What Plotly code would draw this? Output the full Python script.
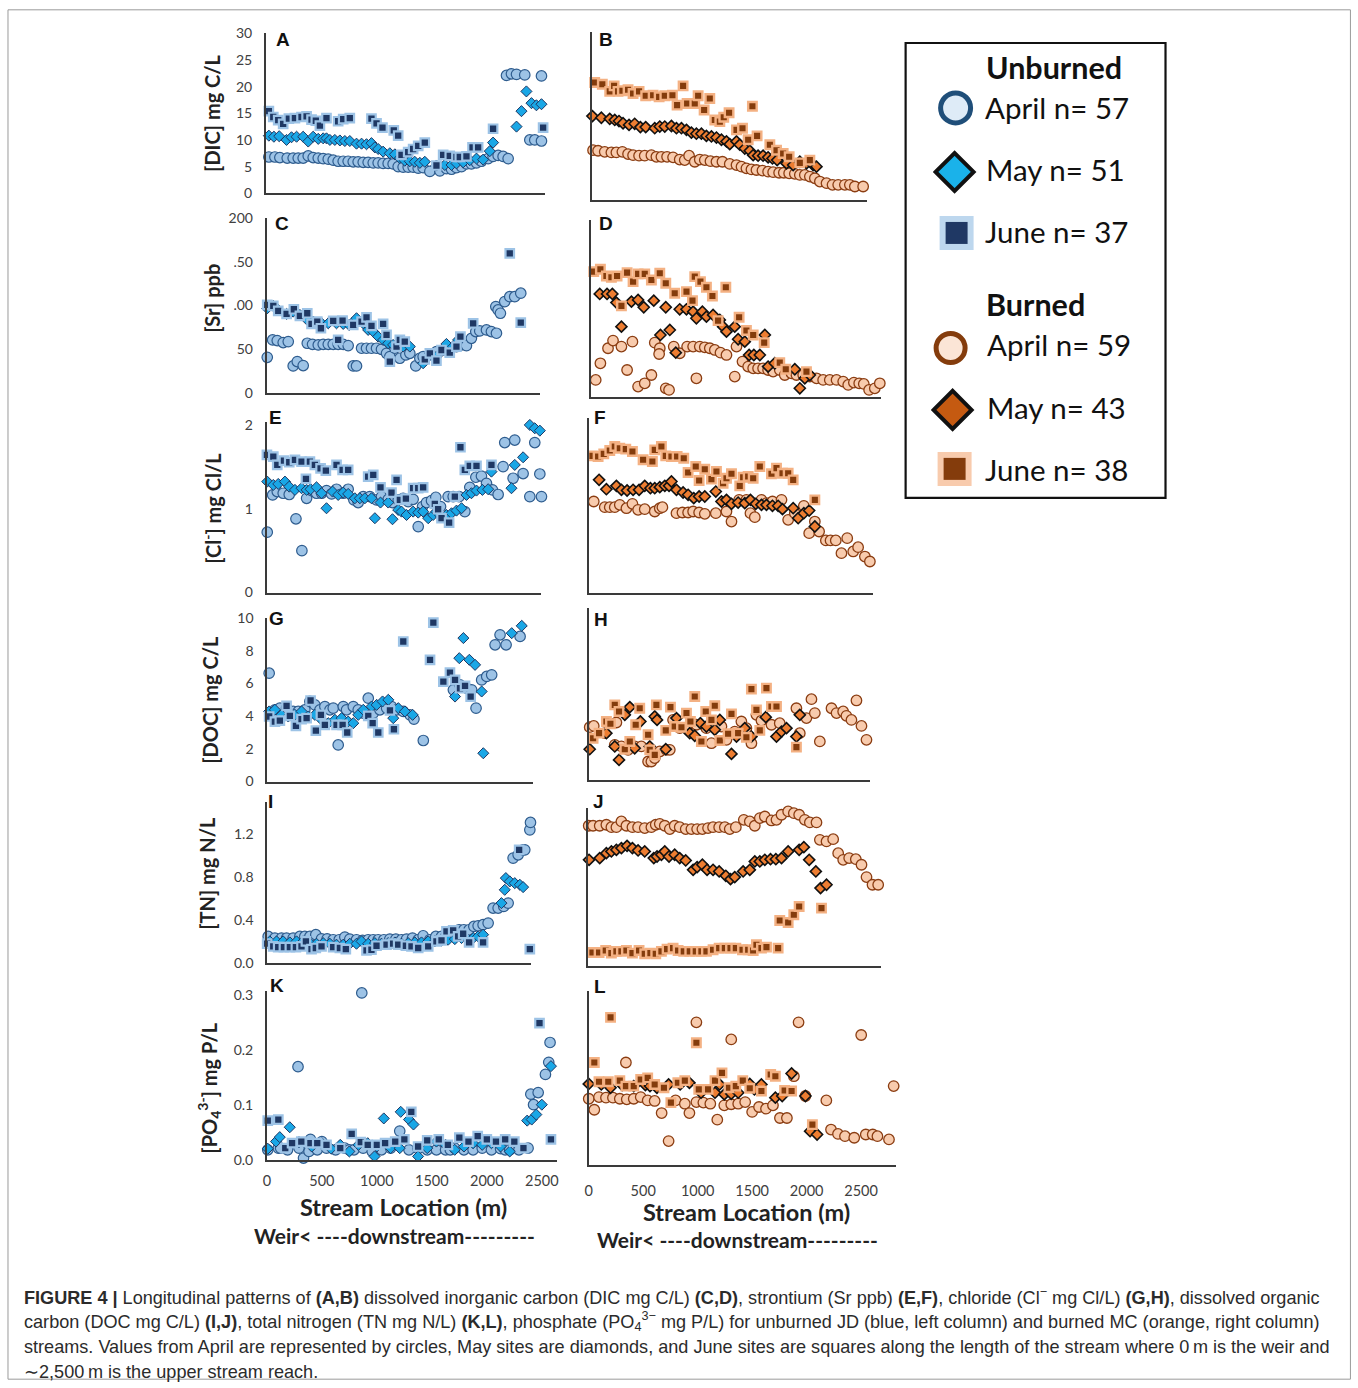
import plotly.graph_objects as go

# ---------------- DATA (x = stream location in m, y = concentration) ----------------
# Panel A: DIC, unburned
A_apr_x = [18,73,118,185,239,285,330,376,421,467,512,558,603,648,694,739,785,830,876,921,967,1012,1057,1103,1148,1194,1239,1285,1330,1376,1421,1482,1573,1633,1679,1724,1770,1815,1860,1906,1951,2012,2057,2103,2148,2194,2179,2224,2270,2345,2497,2391,2436,2497]
A_apr_y = [6.8,6.8,6.7,6.6,6.6,6.6,6.6,7.0,6.7,6.6,6.5,6.4,6.2,6.0,6.0,6.0,5.9,5.9,5.8,5.8,5.7,5.7,5.6,5.6,5.5,5.0,4.9,4.9,4.9,4.7,4.8,4.1,4.2,4.6,4.5,4.8,5.0,5.5,5.5,5.7,6.0,6.5,6.9,7.1,6.9,6.5,22.1,22.4,22.3,22.2,22.0,10.0,10.0,9.8]
A_may_x = [18,64,112,179,224,270,330,376,421,467,512,542,573,618,664,709,754,815,861,906,951,982,1012,1057,1118,1164,1209,1254,1300,1345,1391,1436,1542,1618,1679,1724,1785,1845,1906,1966,2027,2057,2270,2315,2360,2406,2451,2497]
A_may_y = [10.8,10.6,10.7,10.0,10.5,10.6,10.6,9.7,10.6,10.2,10.3,10.3,10.0,10.0,9.9,9.8,9.8,9.3,9.3,9.2,9.4,8.6,8.3,7.8,7.5,7.3,6.6,6.1,6.0,5.9,5.7,5.9,5.2,5.3,5.3,5.6,5.8,6.2,6.5,6.3,7.9,9.5,12.5,15.4,19.1,16.9,16.5,16.7]
A_jun_x = [18,58,103,148,200,255,315,361,406,445,482,542,648,694,754,951,997,1051,1154,1194,1224,1285,1330,1376,1436,1542,1603,1663,1724,1754,1815,1870,1921,2057,2512]
A_jun_y = [15.4,14.3,13.7,13.0,14.0,14.1,14.3,14.4,13.8,13.6,12.7,14.1,13.5,13.9,14.1,14.0,13.1,12.3,11.8,10.8,7.2,7.7,8.3,8.9,9.5,5.2,7.2,7.0,6.8,6.8,6.9,8.6,8.6,12.1,12.3]

# Panel B: DIC, burned
B_apr_x = [40,86,147,208,254,309,361,407,462,514,575,621,667,719,774,835,881,921,973,1019,1065,1117,1172,1227,1294,1356,1402,1447,1493,1539,1594,1646,1692,1747,1790,1839,1891,1937,1983,2029,2075,2121,2182,2237,2289,2350,2396,2442,2518]
B_apr_y = [8.5,8.4,8.2,8.1,8.1,8.2,7.8,7.6,7.5,7.5,7.6,7.3,7.3,7.3,7.2,6.8,6.7,7.5,6.4,6.8,6.7,6.5,6.4,6.4,6.0,5.8,5.5,5.2,5.0,4.9,4.8,4.6,4.5,4.4,4.4,4.3,4.2,4.0,4.0,3.7,3.4,2.8,2.5,2.2,2.2,2.2,2.2,1.9,1.9]
B_may_x = [34,116,193,239,278,315,370,422,474,523,606,652,698,759,805,851,897,942,988,1034,1080,1126,1172,1218,1264,1294,1356,1386,1432,1478,1509,1554,1600,1646,1686,1729,1815,1876,1937,1998,2059,2090]
B_may_y = [14.7,14.4,14.2,14.0,13.8,13.4,13.1,13.3,12.7,12.7,12.5,12.8,12.8,12.9,12.5,12.5,12.2,11.7,11.5,11.5,11.1,11.0,10.8,10.4,10.1,9.6,10.1,9.5,8.8,8.4,7.6,7.5,7.5,7.2,7.0,6.7,6.1,5.8,6.4,6.1,5.8,5.5]
B_jun_x = [55,125,193,233,269,309,361,407,462,523,591,646,698,768,811,866,903,973,1004,1059,1111,1157,1203,1239,1288,1356,1411,1463,1502,1545,1662,1723,1784,1839,1937,2029]
B_jun_y = [20.8,20.5,19.2,20.2,19.2,19.3,19.5,18.8,19.2,18.4,18.5,18.2,18.4,18.5,16.7,20.2,17.0,17.0,18.4,15.8,17.9,14.0,13.7,14.5,15.3,12.2,12.5,10.4,16.5,11.1,9.5,8.5,7.9,7.3,6.2,6.7]

# Panel C: Sr, unburned
C_apr_x = [3,52,94,148,194,239,276,330,367,415,467,512,558,603,648,694,739,785,815,861,906,951,997,1042,1088,1118,1164,1209,1264,1300,1354,1391,1421,1482,1542,1603,1663,1724,1770,1815,1860,1900,1936,1997,2042,2088,2082,2103,2124,2163,2209,2254,2309]
C_apr_y = [40.5,60.4,59.7,57.4,58.5,30.6,35.6,31.0,56.6,55.4,54.7,55.4,55.4,55.4,55.4,55.4,53.9,30.6,30.6,50.9,50.9,50.9,50.9,49.7,45.1,41.3,50.9,39.4,43.2,45.1,30.6,39.4,41.3,43.2,47.0,48.9,50.9,52.8,54.7,53.9,62.3,70.0,70.7,71.9,70.0,68.1,98.7,94.8,91.0,104.4,110.0,110.0,114.0]
C_may_x = [3,58,103,179,239,300,361,421,497,558,633,694,748,779,815,876,921,967,1012,1057,1103,1148,1194,1239,1300,1421,1542,1633,1694,1739]
C_may_y = [96.7,99.4,94.8,90.2,92.9,89.1,84.1,81.5,79.5,79.5,79.5,78.8,77.6,80.3,85.3,79.5,71.9,70.0,64.2,60.4,56.6,54.7,52.8,52.8,52.8,33.7,41.3,55.8,52.8,60.4]
C_jun_x = [3,58,103,179,245,300,367,406,458,491,603,648,688,785,861,906,951,1057,1088,1118,1179,1209,1254,1436,1482,1542,1588,1663,1724,1760,1876,2209,2309]
C_jun_y = [100.6,99.4,93.7,90.2,95.6,88.0,91.0,78.8,81.5,73.8,82.2,60.4,82.6,77.6,81.5,86.4,76.5,78.8,66.2,35.6,52.8,60.4,58.5,38.2,45.1,36.7,48.9,45.9,52.8,64.2,79.5,159.8,80.3]

# Panel D: Sr, burned
D_apr_x = [24,64,107,177,223,300,352,401,453,514,575,606,652,646,707,737,780,835,903,958,988,1019,1065,1111,1157,1209,1264,1340,1356,1411,1463,1509,1554,1600,1646,1692,1753,1799,1860,1906,1968,2029,2090,2151,2212,2274,2335,2381,2433,2482,2524,2573,2625,2671]
D_apr_y = [54.1,18.7,37.3,54.1,62.7,56.0,29.8,61.5,11.2,14.9,24.2,60.4,54.1,47.7,9.3,7.5,56.0,48.5,56.0,56.0,20.5,56.0,55.2,54.1,52.2,49.2,46.6,22.4,56.0,39.2,33.6,31.7,31.7,31.7,29.8,28.0,29.8,24.2,26.1,24.2,24.2,22.4,20.5,18.7,18.7,18.7,16.8,13.1,15.7,14.9,14.2,7.5,9.3,14.9]
D_may_x = [101,168,217,254,300,392,453,505,597,658,707,744,799,835,897,958,988,1043,1080,1141,1203,1233,1264,1340,1371,1432,1472,1515,1570,1616,1646,1707,1891,1937,1983,2029]
D_may_y = [114.9,114.9,114.9,105.2,78.3,106.3,108.2,100.0,107.4,69.0,100.0,74.6,49.2,97.7,97.7,95.1,87.7,95.1,89.5,91.4,85.8,78.3,72.7,78.3,64.2,61.5,46.6,46.6,46.6,69.0,33.6,37.3,30.6,9.3,20.5,24.2]
D_jun_x = [46,107,162,208,260,300,352,407,453,514,575,652,707,789,897,952,973,1025,1080,1135,1187,1258,1380,1447,1509,1610,1753,1808,1998]
D_jun_y = [139.9,142.5,135.0,133.5,135.0,101.5,138.8,128.7,137.3,137.3,130.5,138.0,126.8,115.6,117.5,107.4,134.3,128.7,122.3,112.6,85.0,122.3,88.8,73.9,69.0,60.4,38.0,30.6,28.0]

# Panel E: Cl, unburned
E_apr_x = [3,52,94,148,203,264,318,361,406,451,497,542,588,633,694,739,791,830,876,936,997,1042,1103,1142,1194,1239,1285,1330,1376,1415,1451,1497,1536,1579,1648,1694,1748,1800,1845,1900,1951,1997,2051,2103,2148,2163,2254,2239,2330,2391,2436,2482,2497]
E_apr_y = [0.72,1.165,1.205,1.185,1.17,0.88,0.50,1.125,1.217,1.185,1.185,1.217,1.177,1.233,1.185,1.233,1.105,1.074,1.145,1.145,1.105,1.145,1.113,1.074,1.105,1.125,1.085,1.113,0.787,1.026,1.074,1.097,1.137,1.026,1.145,1.145,1.145,0.966,1.256,1.376,1.39,1.304,1.225,1.17,1.503,1.79,1.82,1.364,1.42,1.145,1.79,1.415,1.145]
E_may_x = [3,58,103,164,203,255,315,361,397,451,497,542,597,648,694,739,800,845,891,951,982,1033,1103,1142,1194,1224,1270,1330,1376,1421,1467,1512,1542,1588,1633,1679,1724,1770,1815,1860,1906,1960,2012,2042,2224,2254,2330,2391,2436,2482]
E_may_y = [1.324,1.284,1.296,1.324,1.264,1.225,1.245,1.225,1.233,1.256,1.185,1.006,1.205,1.165,1.193,1.177,1.125,1.125,1.125,1.125,0.887,1.074,1.074,0.875,0.986,0.966,0.926,0.966,0.954,0.966,0.887,0.926,0.966,0.899,0.926,0.946,0.978,1.006,1.165,1.185,1.217,1.225,1.233,1.443,1.245,1.523,1.614,2.0,1.96,1.932]
E_jun_x = [0,58,94,155,203,255,315,355,391,436,488,536,633,688,739,921,967,1033,1133,1179,1209,1264,1330,1376,1421,1527,1557,1588,1657,1709,1760,1800,1845,1906,2042]
E_jun_y = [1.642,1.622,1.523,1.575,1.555,1.583,1.563,1.356,1.563,1.523,1.483,1.455,1.523,1.463,1.463,1.384,1.404,1.256,1.193,1.344,1.105,1.121,1.245,1.245,1.256,1.058,0.994,0.887,0.835,1.145,1.734,1.463,1.511,1.511,1.523]

# Panel F: Cl, burned
F_apr_x = [0,46,147,193,239,285,346,401,453,514,606,652,676,805,860,912,958,1013,1065,1166,1264,1310,1380,1447,1484,1524,1585,1631,1686,1769,1830,1891,1974,2023,2075,2114,2176,2219,2267,2319,2372,2427,2472,2534,2580]
F_apr_y = [1.023,1.062,0.996,0.996,0.996,1.023,0.984,1.035,0.965,0.973,0.946,0.984,0.996,0.926,0.934,0.934,0.946,0.934,0.919,0.926,0.946,0.829,1.081,1.081,0.926,0.88,1.081,1.043,1.062,1.081,0.849,0.926,1.012,0.694,0.829,0.713,0.609,0.609,0.609,0.461,0.636,0.481,0.531,0.422,0.364]
F_may_x = [0,95,162,254,300,352,407,462,514,566,606,652,698,737,759,805,866,912,964,1013,1065,1166,1218,1264,1310,1371,1432,1484,1533,1585,1631,1686,1738,1778,1876,1922,1974,2023,2075]
F_may_y = [1.244,1.314,1.205,1.244,1.198,1.19,1.198,1.198,1.244,1.217,1.217,1.229,1.244,1.244,1.295,1.198,1.167,1.14,1.101,1.12,1.12,1.178,1.062,1.081,1.035,1.05,1.043,1.081,1.035,1.023,1.023,1.012,1.012,0.973,0.984,0.868,0.926,0.957,0.771]
F_jun_x = [34,86,138,193,239,285,340,401,499,584,606,667,707,759,811,872,912,982,1013,1065,1126,1172,1233,1264,1310,1386,1417,1463,1509,1570,1677,1723,1778,1830,1876,2075]
F_jun_y = [1.593,1.585,1.616,1.655,1.702,1.682,1.671,1.643,1.547,1.527,1.663,1.702,1.593,1.585,1.585,1.566,1.399,1.469,1.306,1.438,1.322,1.411,1.275,1.333,1.384,1.244,1.345,1.353,1.333,1.469,1.384,1.45,1.391,1.391,1.314,1.081]

# Panel G: DOC, unburned
G_apr_x = [21,73,118,179,239,285,345,391,436,482,527,573,603,648,694,724,785,830,876,921,967,1027,1088,1133,1179,1239,1300,1336,1421,1694,1754,1815,1860,1900,1951,1997,2042,2073,2118,2173,2300,2421]
G_apr_y = [6.63,4.39,4.49,4.49,4.29,4.29,4.39,4.9,4.69,4.39,4.59,4.39,4.49,2.24,4.59,4.39,4.59,4.39,4.18,5.1,4.18,4.39,4.49,4.59,4.39,4.29,4.08,3.82,2.51,5.61,5.92,5.71,5.61,4.49,6.22,6.43,6.53,8.37,8.98,8.37,8.88,3.57]
G_may_x = [21,73,133,194,255,315,376,436,497,558,618,679,739,785,830,876,951,997,1051,1103,1148,1194,1254,1324,1709,1785,1748,1839,1891,1951,2224,2315,1966]
G_may_y = [4.29,4.39,4.08,3.98,4.08,4.29,3.98,4.08,3.78,3.57,3.78,3.88,3.67,3.57,4.08,4.39,4.59,4.69,4.9,5.0,3.88,4.49,4.29,4.08,5.2,8.78,7.55,7.45,7.14,5.51,9.08,9.53,1.73]
G_jun_x = [21,73,118,179,209,264,315,361,397,445,491,527,633,688,730,921,961,1012,1118,1154,1239,1482,1512,1603,1663,1709,1754,1800,1851]
G_jun_y = [3.98,3.67,3.73,4.63,4.02,3.41,3.82,3.88,4.96,3.12,4.08,3.47,3.47,3.47,3.0,4.02,3.57,3.0,4.35,3.2,8.57,7.45,9.73,6.12,6.67,6.22,5.71,5.86,5.2]

# Panel H: DOC, burned
H_apr_x = [9,46,147,254,239,300,361,422,483,545,575,606,652,713,744,774,835,897,988,1080,1126,1218,1264,1340,1401,1447,1493,1539,1585,1677,1753,1906,1937,1998,2044,2075,2121,2228,2274,2335,2365,2411,2457,2503,2549]
H_apr_y = [3.25,3.33,2.88,3.54,2.16,2.06,1.85,2.06,2.06,1.13,1.13,1.34,1.75,1.85,1.85,3.7,3.19,3.19,3.4,3.19,2.26,3.29,2.47,2.98,3.6,3.19,2.26,4.01,3.66,3.4,3.5,4.42,2.88,3.81,4.98,4.12,2.37,4.42,4.12,4.22,3.95,3.7,4.9,3.33,2.47]
H_may_x = [9,162,239,278,331,377,422,474,560,606,627,707,805,927,973,1025,1080,1157,1203,1310,1356,1432,1493,1625,1723,1769,1815,1906,1937]
H_may_y = [1.89,2.88,2.06,1.23,4.01,4.49,1.95,3.6,2.06,3.91,3.7,1.89,3.81,2.88,2.72,3.5,3.29,3.09,3.7,1.6,2.67,3.19,2.67,3.87,2.67,2.98,3.19,2.67,4.01]
H_jun_x = [40,95,162,199,239,278,331,377,431,468,545,560,606,621,707,750,789,851,897,933,973,1034,1074,1126,1157,1203,1279,1310,1371,1447,1493,1539,1570,1631,1677,1723,1906]
H_jun_y = [2.57,2.88,3.6,3.46,4.63,4.22,1.89,2.37,3.4,4.42,2.78,1.85,1.54,4.63,3.05,4.49,3.29,3.25,4.12,3.6,5.14,2.37,4.22,3.7,4.57,2.43,2.84,4.07,2.88,2.63,5.6,4.32,3.05,5.66,4.53,4.53,2.02]

# Panel I: TN, unburned
I_apr_x = [12,73,133,179,239,300,345,391,445,497,548,603,658,709,754,815,870,921,967,1012,1064,1118,1173,1224,1270,1324,1376,1421,1482,1536,1588,1633,1694,1748,1791,1839,1882,1921,1966,2012,2057,2103,2154,2194,2239,2285,2330,2345,2391,2397]
I_apr_y = [0.248,0.233,0.233,0.233,0.233,0.248,0.248,0.248,0.264,0.226,0.226,0.217,0.217,0.242,0.223,0.217,0.211,0.217,0.217,0.217,0.217,0.223,0.223,0.217,0.223,0.233,0.217,0.254,0.217,0.248,0.248,0.264,0.295,0.31,0.31,0.31,0.341,0.347,0.357,0.372,0.512,0.512,0.527,0.558,0.977,1.008,1.054,1.054,1.24,1.309]
I_may_x = [27,88,148,209,270,330,391,451,512,573,633,694,754,815,861,921,982,1042,1103,1164,1224,1285,1345,1406,1467,1527,1588,1648,1709,1770,1815,1876,1921,1966,2133,2163,2173,2209,2254,2300,2330]
I_may_y = [0.202,0.202,0.202,0.192,0.202,0.202,0.186,0.18,0.186,0.18,0.171,0.171,0.18,0.18,0.202,0.18,0.186,0.18,0.186,0.192,0.18,0.186,0.192,0.192,0.202,0.202,0.211,0.217,0.223,0.233,0.233,0.233,0.248,0.264,0.558,0.682,0.791,0.76,0.744,0.729,0.707]
I_jun_x = [3,58,103,155,209,264,315,355,406,445,497,603,664,718,906,951,997,1088,1148,1194,1264,1315,1376,1467,1542,1588,1633,1694,1739,1785,1839,1966,2294,2391]
I_jun_y = [0.18,0.155,0.149,0.149,0.149,0.149,0.155,0.202,0.13,0.14,0.155,0.149,0.14,0.13,0.118,0.124,0.161,0.171,0.18,0.171,0.161,0.155,0.14,0.155,0.202,0.211,0.295,0.304,0.248,0.273,0.192,0.192,1.054,0.13]

# Panel J: TN, burned
J_apr_x = [0,40,101,162,208,254,300,346,401,453,514,575,615,652,698,744,789,835,890,942,995,1043,1095,1141,1197,1249,1294,1350,1423,1478,1524,1570,1616,1677,1723,1769,1830,1882,1931,1983,2029,2090,2121,2182,2243,2289,2335,2390,2451,2503,2549,2604,2656]
J_apr_y = [1.309,1.309,1.309,1.318,1.296,1.296,1.349,1.309,1.296,1.296,1.287,1.296,1.318,1.327,1.309,1.278,1.309,1.296,1.278,1.278,1.278,1.278,1.287,1.296,1.296,1.296,1.278,1.296,1.364,1.349,1.309,1.38,1.395,1.358,1.364,1.411,1.442,1.426,1.411,1.364,1.34,1.34,1.178,1.163,1.184,1.054,0.992,1.008,0.998,0.946,0.831,0.76,0.76]
J_may_x = [3,101,162,208,254,300,352,401,453,514,597,627,667,698,737,789,835,890,958,995,1043,1086,1141,1197,1258,1301,1340,1417,1478,1524,1570,1616,1668,1717,1769,1830,1931,1974,2023,2084,2127,2182]
J_may_y = [0.992,1.008,1.054,1.07,1.085,1.101,1.122,1.101,1.079,1.07,1.008,1.023,1.039,1.07,1.023,1.039,1.008,0.986,0.899,0.924,0.946,0.899,0.899,0.884,0.843,0.812,0.831,0.884,0.899,0.977,0.977,0.992,0.998,0.998,1.008,1.07,1.085,1.11,0.992,0.884,0.729,0.76]
J_jun_x = [34,95,156,208,254,300,346,401,462,514,566,615,667,719,774,820,872,927,982,1034,1080,1141,1197,1249,1301,1350,1411,1463,1509,1539,1585,1631,1738,1753,1830,1882,1931,2136]
J_jun_y = [0.13,0.13,0.149,0.124,0.14,0.14,0.149,0.124,0.149,0.118,0.124,0.118,0.14,0.161,0.171,0.149,0.14,0.14,0.14,0.14,0.14,0.155,0.171,0.171,0.171,0.171,0.155,0.155,0.149,0.202,0.171,0.18,0.171,0.428,0.409,0.481,0.558,0.543]

# Panel K: PO4, unburned
K_apr_x = [8,104,125,188,283,292,333,383,396,458,500,542,625,708,750,792,863,875,958,1042,1125,1208,1292,1375,1458,1542,1625,1667,1708,1792,1875,1958,2042,2125,2167,2208,2292,2375,2400,2425,2467,2533,2563,2575]
K_apr_y = [0.018,0.021,0.021,0.018,0.169,0.021,0.003,0.015,0.037,0.018,0.033,0.021,0.018,0.021,0.018,0.018,0.303,0.021,0.015,0.018,0.021,0.052,0.018,0.02,0.018,0.018,0.018,0.018,0.021,0.018,0.018,0.021,0.018,0.02,0.018,0.018,0.018,0.021,0.119,0.1,0.122,0.155,0.177,0.213]
K_may_x = [8,83,117,208,292,408,500,583,667,750,833,917,979,1000,1063,1125,1208,1217,1292,1333,1375,1458,1542,1625,1708,1792,1875,1958,2042,2125,2208,2367,2408,2450,2500,2583]
K_may_y = [0.02,0.033,0.041,0.059,0.032,0.024,0.03,0.02,0.027,0.015,0.027,0.03,0.006,0.024,0.075,0.021,0.021,0.087,0.073,0.064,0.006,0.021,0.033,0.027,0.018,0.024,0.03,0.027,0.03,0.024,0.015,0.071,0.073,0.082,0.1,0.17]
K_jun_x = [8,104,167,229,313,396,458,542,667,771,854,917,1000,1075,1167,1250,1313,1375,1458,1563,1646,1750,1833,1917,2000,2083,2167,2250,2333,2479,2583]
K_jun_y = [0.071,0.073,0.021,0.03,0.033,0.03,0.03,0.027,0.021,0.047,0.032,0.027,0.027,0.03,0.033,0.037,0.087,0.024,0.035,0.037,0.027,0.04,0.033,0.043,0.037,0.033,0.037,0.033,0.021,0.248,0.037]

# Panel L: PO4, burned
L_apr_x = [0,51,94,158,222,285,341,349,413,477,541,605,669,733,797,882,924,988,988,1052,1116,1180,1244,1308,1308,1372,1436,1500,1563,1627,1691,1755,1819,1883,1926,1989,2181,2224,2288,2352,2437,2501,2543,2607,2650,2756,2799]
L_apr_y = [0.12,0.1,0.123,0.122,0.122,0.12,0.186,0.119,0.12,0.123,0.117,0.116,0.094,0.043,0.117,0.111,0.094,0.114,0.259,0.113,0.111,0.082,0.108,0.11,0.228,0.111,0.114,0.096,0.105,0.102,0.108,0.085,0.085,0.161,0.259,0.125,0.117,0.064,0.056,0.052,0.049,0.236,0.055,0.055,0.052,0.046,0.143]
L_may_x = [0,115,200,307,413,520,562,626,733,839,924,1031,1159,1201,1244,1308,1372,1478,1521,1585,1713,1776,1862,1989,2032,2096]
L_may_y = [0.147,0.146,0.14,0.145,0.143,0.145,0.143,0.14,0.146,0.146,0.149,0.131,0.131,0.146,0.128,0.129,0.131,0.147,0.137,0.146,0.122,0.125,0.166,0.125,0.061,0.055]
L_jun_x = [51,94,179,200,285,341,413,477,541,605,690,754,818,882,988,1010,1095,1159,1223,1287,1350,1414,1478,1585,1670,1713,1798,1862,2053]
L_jun_y = [0.186,0.151,0.151,0.268,0.153,0.143,0.143,0.155,0.158,0.146,0.14,0.113,0.149,0.153,0.222,0.137,0.137,0.153,0.167,0.14,0.143,0.153,0.139,0.134,0.164,0.161,0.135,0.134,0.073]

X_TICKS = [0, 500, 1000, 1500, 2000, 2500]
Y_TICKS = {
    'A': ([0, 5, 10, 15, 20, 25, 30], ['0', '5', '10', '15', '20', '25', '30']),
    'C': ([0, 50, 100, 150, 200], ['0', '50', '.00', '.50', '200']),
    'E': ([0, 1, 2], ['0', '1', '2']),
    'G': ([0, 2, 4, 6, 8, 10], ['0', '2', '4', '6', '8', '10']),
    'I': ([0, 0.4, 0.8, 1.2], ['0.0', '0.4', '0.8', '1.2']),
    'K': ([0, 0.1, 0.2, 0.3], ['0.0', '0.1', '0.2', '0.3']),
}
Y_TITLES = ['[DIC] mg C/L', '[Sr] ppb', '[Cl<sup>-</sup>] mg Cl/L', '[DOC] mg C/L',
            '[TN] mg N/L', '[PO<sub>4</sub><sup>3-</sup>] mg P/L']

SERIES = {
    'A': [(A_apr_x, A_apr_y), (A_may_x, A_may_y), (A_jun_x, A_jun_y)],
    'B': [(B_apr_x, B_apr_y), (B_may_x, B_may_y), (B_jun_x, B_jun_y)],
    'C': [(C_apr_x, C_apr_y), (C_may_x, C_may_y), (C_jun_x, C_jun_y)],
    'D': [(D_apr_x, D_apr_y), (D_may_x, D_may_y), (D_jun_x, D_jun_y)],
    'E': [(E_apr_x, E_apr_y), (E_may_x, E_may_y), (E_jun_x, E_jun_y)],
    'F': [(F_apr_x, F_apr_y), (F_may_x, F_may_y), (F_jun_x, F_jun_y)],
    'G': [(G_apr_x, G_apr_y), (G_may_x, G_may_y), (G_jun_x, G_jun_y)],
    'H': [(H_apr_x, H_apr_y), (H_may_x, H_may_y), (H_jun_x, H_jun_y)],
    'I': [(I_apr_x, I_apr_y), (I_may_x, I_may_y), (I_jun_x, I_jun_y)],
    'J': [(J_apr_x, J_apr_y), (J_may_x, J_may_y), (J_jun_x, J_jun_y)],
    'K': [(K_apr_x, K_apr_y), (K_may_x, K_may_y), (K_jun_x, K_jun_y)],
    'L': [(L_apr_x, L_apr_y), (L_may_x, L_may_y), (L_jun_x, L_jun_y)],
}

# ---------------- LAYOUT / STYLE ----------------
W, H = 1358, 1388
# small calibration from target pixel positions to page positions
SX, CX = 0.996, 4.0
SY, CY = 0.988, 9.0
def fx(p): return ((p - CX) / SX) / W
def fy(p): return 1 - ((p - CY) / SY) / H

# panel boxes in target pixels: left, right, top, bottom ; axis ranges
BOX = {
    'A': (266, 545, 33.3, 193.3, [-9, 2527], [0, 30]),
    'B': (592, 867, 31.7, 200, [28, 2550], [-0.55, 30.05]),
    'C': (266.7, 540, 218.3, 392.7, [-3, 2482], [0, 200]),
    'D': (591.7, 881.7, 220, 396.7, [25, 2685], [0, 197.7]),
    'E': (266.7, 541.7, 421.7, 592.7, [-3, 2497], [0, 2.04]),
    'F': (589.3, 873.3, 418.3, 593.3, [3, 2608], [-0.004, 2.031]),
    'G': (267.3, 533.3, 618.3, 781.7, [3, 2418], [0, 10]),
    'H': (589.3, 870, 608.3, 780, [3, 2578], [0, 10.6]),
    'I': (267.3, 531.7, 801.7, 963.3, [3, 2406], [0, 1.504]),
    'J': (588.3, 881.7, 808.3, 966.7, [-6, 2685], [0, 1.473]),
    'K': (267, 557, 991, 1160, [0, 2636], [0, 0.307]),
    'L': (589, 896, 991, 1165, [0, 2817], [0, 0.3165]),
}
LETTER_POS = {'A': (283, 40), 'B': (606, 40), 'C': (282, 224), 'D': (606, 224),
              'E': (276, 418), 'F': (600, 418), 'G': (277, 619), 'H': (601, 620),
              'I': (271, 802), 'J': (599, 802), 'K': (277, 986), 'L': (600, 987)}
YTITLE_POS = [(212, 113), (212, 298), (212, 508), (210, 700), (207, 873), (209, 1088)]

AX = '#3a3a3a'
TICKC = '#404040'
UNB = [
    dict(symbol='circle', size=10.5, color='#9dc3e6', line=dict(color='#2e5c8e', width=1.2)),
    dict(symbol='diamond', size=8.5, color='#1aa7e6', line=dict(color='#1f3864', width=1.0)),
    dict(symbol='square', size=8.5, color='#1f3864', line=dict(color='#9dc3e6', width=2.2)),
]
BUR = [
    dict(symbol='circle', size=10.5, color='#f8cbad', line=dict(color='#8b3d12', width=1.3)),
    dict(symbol='diamond', size=8.5, color='#ed7d31', line=dict(color='#111111', width=1.6)),
    dict(symbol='square', size=8.5, color='#843c0c', line=dict(color='#f4b183', width=2.4)),
]

fig = go.Figure()
layout = dict(width=W, height=H, margin=dict(l=0, r=0, t=0, b=0),
              paper_bgcolor='white', plot_bgcolor='rgba(0,0,0,0)', showlegend=False)
annotations = []
shapes = []

def note(x, y, text, size, family='Lato', color='#222222', xanchor='center', angle=0):
    annotations.append(dict(x=fx(x), y=fy(y), xref='paper', yref='paper', text=text,
                            showarrow=False, xanchor=xanchor, yanchor='middle', textangle=angle,
                            font=dict(family=family, size=size, color=color)))

keys = list(BOX.keys())
for i, k in enumerate(keys, start=1):
    l, r, t, b, xr, yr = BOX[k]
    sx = '' if i == 1 else str(i)
    left_col = (i % 2 == 1)
    styles = UNB if left_col else BUR
    for (xs, ys), st in zip(SERIES[k], styles):
        fig.add_trace(go.Scatter(x=xs, y=ys, mode='markers', xaxis='x' + sx, yaxis='y' + sx,
                                 marker=st, cliponaxis=False, showlegend=False, hoverinfo='x+y'))
    xa = dict(domain=[fx(l), fx(r)], range=xr, anchor='y' + sx, showline=True, linecolor=AX,
              linewidth=1.7, showgrid=False, zeroline=False, ticks='', showticklabels=False,
              fixedrange=True)
    ya = dict(domain=[fy(b), fy(t)], range=yr, anchor='x' + sx, showline=True, linecolor=AX,
              linewidth=1.7, showgrid=False, zeroline=False, ticks='', showticklabels=False,
              fixedrange=True)
    if k in Y_TICKS:
        tv, tt = Y_TICKS[k]
        ya.update(showticklabels=True, tickvals=tv, ticktext=tt, ticklabelstandoff=9,
                  tickfont=dict(family='Lato', size=14, color=TICKC))
    if k in ('K', 'L'):
        xa.update(showticklabels=True, tickvals=X_TICKS, ticktext=[str(v) for v in X_TICKS],
                  ticklabelstandoff=(7 if k == 'K' else 12),
                  tickfont=dict(family='Lato', size=14.5, color=TICKC))
    layout['xaxis' + sx] = xa
    layout['yaxis' + sx] = ya
    lx, ly = LETTER_POS[k]
    note(lx, ly, '<b>%s</b>' % k, 19, family='Liberation Sans', color='#111111')

for (px_, py_), txt in zip(YTITLE_POS, Y_TITLES):
    note(px_, py_, '<b>%s</b>' % txt, 20, angle=-90)

for cx, cy1, cy2 in [(404, 1207, 1236), (747, 1212, 1240)]:
    note(cx, cy1, '<b>Stream Location (m)</b>', 23.5)
    note(cx - 9, cy2, '<b>Weir< ----downstream---------</b>', 21)

# ---- legend box (drawn) ----
shapes.append(dict(type='rect', xref='paper', yref='paper', x0=fx(906), x1=fx(1166), y0=fy(498), y1=fy(43),
                   line=dict(color='#111111', width=2.2), fillcolor='white', layer='below'))

def circle(cx, cy, r, fill, col, w):
    shapes.append(dict(type='circle', xref='paper', yref='paper', x0=fx(cx - r), x1=fx(cx + r),
                       y0=fy(cy + r), y1=fy(cy - r), fillcolor=fill, line=dict(color=col, width=w)))

def diamond(cx, cy, r, fill, col, w):
    p = 'M %f,%f L %f,%f L %f,%f L %f,%f Z' % (fx(cx - r), fy(cy), fx(cx), fy(cy - r),
                                              fx(cx + r), fy(cy), fx(cx), fy(cy + r))
    shapes.append(dict(type='path', xref='paper', yref='paper', path=p, fillcolor=fill,
                       line=dict(color=col, width=w)))

def square(cx, cy, ro, ri, outer, inner):
    shapes.append(dict(type='rect', xref='paper', yref='paper', x0=fx(cx - ro), x1=fx(cx + ro),
                       y0=fy(cy + ro), y1=fy(cy - ro), fillcolor=outer, line=dict(width=0)))
    shapes.append(dict(type='rect', xref='paper', yref='paper', x0=fx(cx - ri), x1=fx(cx + ri),
                       y0=fy(cy + ri), y1=fy(cy - ri), fillcolor=inner, line=dict(width=0)))

circle(956, 108, 15, '#deebf7', '#1f4e79', 5)
diamond(955, 172, 19, '#1ab2ea', '#111111', 4)
square(957, 233, 17, 11, '#bdd7ee', '#1f3864')
circle(951, 348, 14.5, '#fbe5d6', '#843c0c', 5)
diamond(953, 410, 19, '#c55a11', '#111111', 4)
square(955, 469, 17, 11, '#f8cbad', '#843c0c')

LEG_TXT = [('<b>Unburned</b>', 1054, 67, 'center', 30.5), ('April n= 57', 983, 108, 'left', 29.5),
           ('May n= 51', 984, 170, 'left', 29.5), ('June n= 37', 983, 232, 'left', 29.5),
           ('<b>Burned</b>', 1036, 304, 'center', 30.5), ('April n= 59', 985, 345, 'left', 29.5),
           ('May n= 43', 985, 408, 'left', 29.5), ('June n= 38', 983, 470, 'left', 29.5)]
for txt, x_, y_, anc, sz in LEG_TXT:
    note(x_, y_, txt, sz, color='#111111', xanchor=anc)

# ---- caption ----
CAPTION = [
    '<b>FIGURE 4 |</b> Longitudinal patterns of <b>(A,B)</b> dissolved inorganic carbon (DIC mg C/L) <b>(C,D)</b>, strontium (Sr ppb) <b>(E,F)</b>, chloride (Cl<sup>\u2212</sup> mg Cl/L) <b>(G,H)</b>, dissolved organic',
    'carbon (DOC mg C/L) <b>(I,J)</b>, total nitrogen (TN mg N/L) <b>(K,L)</b>, phosphate (PO<sub>4</sub><sup>3\u2212</sup> mg P/L) for unburned JD (blue, left column) and burned MC (orange, right column)',
    'streams. Values from April are represented by circles, May sites are diamonds, and June sites are squares along the length of the stream where 0\u2009m is the weir and',
    '\u223c2,500\u2009m is the upper stream reach.',
]
for j, line in enumerate(CAPTION):
    note(22, 1297 + 25 * j, line, 18.1, family='Liberation Sans', color='#2b2b2b', xanchor='left')

# figure border
shapes.append(dict(type='rect', xref='paper', yref='paper', x0=fx(8), x1=fx(1351), y0=0.0006, y1=0.9994,
                   line=dict(color='#9a9a9a', width=1), layer='below'))

layout['annotations'] = annotations
layout['shapes'] = shapes
fig.update_layout(**layout)
fig.write_html('out.html', config={'displayModeBar': False},
               post_script="document.body.style.margin='0';document.body.style.overflow='hidden';"
                           "document.documentElement.style.overflow='hidden';")
